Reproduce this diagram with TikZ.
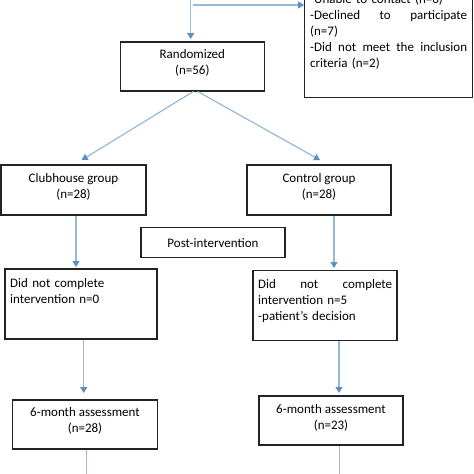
\documentclass[tikz,border=0pt]{standalone}
\usepackage{fontspec}
\setmainfont{Carlito}
\usetikzlibrary{arrows.meta}
\definecolor{conline}{RGB}{150,185,215}
\definecolor{conhead}{RGB}{95,142,196}
\definecolor{boxline}{RGB}{35,35,35}
\newcommand{\lowpad}{\rule[-8pt]{0pt}{0pt}}
\newcommand{\spreadline}[1]{\leavevmode\hbox to\linewidth{#1}}
\begin{document}
\begin{tikzpicture}[x=1pt,y=-1pt,
  box/.style={draw=boxline, line width=1.3pt, fill=white, inner sep=0pt, align=center,
    font=\fontsize{13}{16}\selectfont},
  txt/.style={inner sep=0pt, font=\fontsize{13}{16}\selectfont},
  conn/.style={draw=conline, line width=1.2pt,
    -{Triangle[length=6pt,width=7pt,color=conhead]}},
  plain/.style={draw=conline, line width=1.2pt}]
\useasboundingbox (0,0) rectangle (474,474);
\clip (0,0) rectangle (474,474);

% boxes
\node[box, minimum width=144pt, minimum height=49pt] (rand) at (192.3,66.4) {Randomized\\(n=56)\lowpad};
\node[box, minimum width=168pt, minimum height=157pt] (excl) at (388.7,19.2) {};
\node[txt, anchor=base west, text width=157pt, align=left] (excltxt) at (310,3)
  {-Unable to contact (n=6)\\
   \spreadline{-Declined\hfill to\hfill participate}\\
   (n=7)\\
   \spreadline{-Did\hfill not\hfill meet\hfill the\hfill inclusion}\\
   criteria (n=2)};
\node[box, minimum width=145pt, minimum height=50pt] (club) at (73.5,190) {Clubhouse group\\(n=28)\lowpad};
\node[box, minimum width=144pt, minimum height=50pt] (ctrl) at (319,190) {Control group\\(n=28)\lowpad};
\node[box, minimum width=144pt, minimum height=30pt] (post) at (213,242.7) {Post-intervention};
\node[box, minimum width=152pt, minimum height=70pt] (dncL) at (81,304) {};
\node[txt, anchor=base west, text width=140pt, align=left] (dncLtxt) at (10,287)
  {Did not complete\\intervention n=0};
\node[box, minimum width=144pt, minimum height=70pt] (dncR) at (325,305.3) {};
\node[txt, anchor=base west, text width=134pt, align=left] (dncRtxt) at (258,288)
  {\spreadline{Did\hfill not\hfill complete}\\intervention n=5\\-patient’s decision};
\node[box, minimum width=145pt, minimum height=49pt] (sixL) at (85,424.4) {6-month assessment\\(n=28)\lowpad};
\node[box, minimum width=144pt, minimum height=49pt] (sixR) at (331,420.5) {6-month assessment\\(n=23)\lowpad};

% connectors
\coordinate (topin) at (190.7,-2);
\coordinate (hstart) at (193,5);
\draw[conn] (topin) -- (190.7,39) coordinate (randin);
\draw[conn] (hstart) -- (hstart -| excl.west);
\draw[conn] ([xshift=1pt]rand.south) -- (81.7,160) coordinate (clubin);
\draw[conn] ([xshift=5.5pt]rand.south) -- (320,160) coordinate (ctrlin);
\draw[conn] (club.south -| 76,0) -- (76,267) coordinate (dncLin);
\draw[conn] (ctrl.south -| 334,0) -- (334,268) coordinate (dncRin);
\draw[conn] (dncL.south -| 83.7,0) -- (83.7,393) coordinate (sixLin);
\draw[conn] (dncR.south -| 339,0) -- (339,393) coordinate (sixRin);
\coordinate (botL) at (86.7,476);
\coordinate (botR) at (339.3,476);
\draw[plain] (sixL.south -| botL) -- (botL);
\draw[plain] (sixR.south -| botR) -- (botR);
\end{tikzpicture}
\end{document}
